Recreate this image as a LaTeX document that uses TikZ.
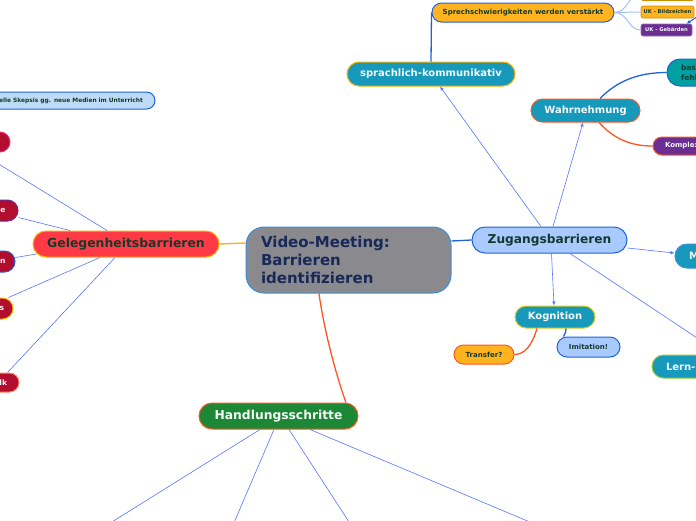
\documentclass[tikz,border=0pt]{standalone}
\usepackage{fontspec}
\setmainfont{DejaVu Sans}
\usetikzlibrary{arrows.meta}
\definecolor{cteal}{HTML}{1699BA}
\definecolor{cred}{HTML}{FF3A46}
\definecolor{ccrim}{HTML}{B00D2F}
\definecolor{cpurp}{HTML}{6B2D92}
\definecolor{cyel}{HTML}{FFB41F}
\definecolor{clblue}{HTML}{A8CAFF}
\definecolor{cskep}{HTML}{BDDBF6}
\definecolor{cgreen}{HTML}{1C8836}
\definecolor{cgray}{HTML}{8A8A8E}
\definecolor{cdteal}{HTML}{00A0A2}
\definecolor{cdark}{HTML}{143A2C}
\definecolor{cnavy}{HTML}{182858}
\definecolor{cblue}{HTML}{1E63D8}
\definecolor{cbord}{HTML}{3A8EE0}
\definecolor{cthin}{HTML}{5577FF}
\definecolor{corange}{HTML}{FFB000}
\definecolor{cored}{HTML}{FF5522}
\definecolor{cwhite}{HTML}{F5F8F8}
\definecolor{cuk}{HTML}{A6C4EE}
\definecolor{cyborder}{HTML}{E0D020}
\definecolor{cgborder}{HTML}{9ACD32}
\definecolor{cpink}{HTML}{E8307A}
\tikzset{
  pill/.style={draw, line width=1pt, inner sep=0pt, font=\bfseries},
  thinline/.style={draw=cthin, line width=0.6pt},
  thickblue/.style={draw=cblue, line width=1.3pt},
  thickorange/.style={draw=cored, line width=1.3pt},
  arr/.style={-{Latex[length=4pt,width=3.5pt]}},
  crim/.style={pill, fill=ccrim, text=cwhite, minimum width=60pt, align=right,
     font=\bfseries\fontsize{7.5}{9}\selectfont},
}
\begin{document}
\begin{tikzpicture}[x=1pt,y=-1pt]
\useasboundingbox (0,0) rectangle (696,520);
\clip (0,0) rectangle (696,520);
\fill[white] (0,0) rectangle (696,520);

% central
\node[pill, fill=cgray, draw=cbord, rounded corners=18pt, minimum width=205pt, minimum height=66pt,
  text width=175pt, align=left, text=cnavy, font=\bfseries\fontsize{15}{18}\selectfont]
  (central) at (348.5,260) {Video-Meeting:\\Barrieren\\identifizieren};

% main branches
\node[pill, fill=cred, draw=corange, rounded corners=13pt, minimum width=186pt, minimum height=26pt,
  text=cdark, font=\bfseries\fontsize{12.4}{14}\selectfont] (gb) at (126,244) {Gelegenheitsbarrieren};
\node[pill, fill=clblue, draw=cblue, rounded corners=13pt, minimum width=155pt, minimum height=26pt,
  text=cdark, font=\bfseries\fontsize{12.2}{14}\selectfont] (zb) at (549.5,240) {Zugangsbarrieren};
\node[pill, fill=cgreen, draw=cored, rounded corners=13pt, minimum width=159pt, minimum height=26pt,
  text=cwhite, font=\bfseries\fontsize{12.3}{14}\selectfont] (hs) at (278.5,416) {Handlungsschritte};

% right side
\node[pill, fill=cteal, draw=corange, rounded corners=12pt, minimum width=168pt, minimum height=24pt,
  text=cwhite, font=\bfseries\fontsize{10}{12}\selectfont] (sk) at (431,74) {sprachlich-kommunikativ};
\node[pill, fill=cyel, draw=cblue, rounded corners=9.5pt, minimum width=182pt, minimum height=19pt,
  text=cdark, font=\bfseries\fontsize{7}{8}\selectfont] (sw) at (523,12.5) {Sprechschwierigkeiten werden verstärkt};
\node[pill, fill=cyel, draw=corange!80!black, line width=0.6pt, rounded corners=2pt, minimum width=53pt, minimum height=13pt] (uktop) at (667.5,-6) {};
\node[pill, fill=cyel, draw=corange!80!black, line width=0.6pt, rounded corners=2pt, minimum width=53pt, minimum height=12pt,
  text=cdark, font=\bfseries\fontsize{5.2}{6}\selectfont] (ukb) at (667.5,12) {UK - Bildzeichen};
\node[pill, fill=cpurp, draw=cpurp!70!white, line width=0.6pt, rounded corners=2pt, minimum width=51pt, minimum height=12pt,
  text=cwhite, font=\bfseries\fontsize{5.2}{6}\selectfont] (ukg) at (666.5,30) {UK - Gebärden};
\coordinate (ukx) at (700,15);

\node[pill, fill=cteal, draw=cored, rounded corners=11.5pt, minimum width=109pt, minimum height=23pt,
  text=cwhite, font=\bfseries\fontsize{10}{12}\selectfont] (wn) at (585.5,110.5) {Wahrnehmung};
\node[pill, fill=cdteal, draw=cblue, rounded corners=13pt, minimum width=70pt, minimum height=27pt,
  text width=42pt, align=left, text=cdark, font=\bfseries\fontsize{7.5}{9.5}\selectfont] (basa) at (702,72.5) {basa\\fehle};
\node[pill, fill=cpurp, draw=cored, rounded corners=9pt, minimum width=90pt, minimum height=18pt,
  text width=66pt, align=left, text=cwhite, font=\bfseries\fontsize{7}{8}\selectfont] (kp) at (698,146) {Komplexe};
\node[pill, fill=cteal, draw=cbord, rounded corners=12pt, minimum width=60pt, minimum height=24pt,
  text width=32pt, align=left, text=cwhite, font=\bfseries\fontsize{10}{12}\selectfont] (mo) at (705,256) {M};
\node[pill, fill=cteal, draw=cgborder, rounded corners=11.5pt, minimum width=140pt, minimum height=23pt,
  text width=112pt, align=left, text=cwhite, font=\bfseries\fontsize{10}{12}\selectfont] (lern) at (722,366.5) {Lern-};

\node[pill, fill=cteal, draw=cyborder, rounded corners=11pt, minimum width=80pt, minimum height=22pt,
  text=cwhite, font=\bfseries\fontsize{10}{12}\selectfont] (kg) at (555,317) {Kognition};
\node[pill, fill=clblue, draw=cblue, rounded corners=10pt, minimum width=63pt, minimum height=20pt,
  text=cdark, font=\bfseries\fontsize{7}{8}\selectfont] (im) at (588.5,347) {Imitation!};
\node[pill, fill=cyel, draw=cored, rounded corners=9.5pt, minimum width=60pt, minimum height=19pt,
  text=cdark, font=\bfseries\fontsize{7}{8}\selectfont] (tr) at (484,354.5) {Transfer?};

% left side
\node[pill, fill=cskep, draw=cblue, rounded corners=8.5pt, minimum width=200pt, minimum height=17pt,
  text width=176pt, align=right, text=cdark, font=\bfseries\fontsize{5.9}{7}\selectfont]
  (skep) at (55,100.5) {elle Skepsis gg. neue Medien im Unterricht};
\node[crim, draw=cpink, rounded corners=10pt, minimum height=20pt] (ltop) at (-20,142) {};
\node[crim, draw=cpurp, rounded corners=10.5pt, minimum height=21pt, text width=35pt] (le) at (-12,210.5) {e};
\node[crim, draw=cblue, rounded corners=10.5pt, minimum height=21pt, text width=41pt] (ln) at (-15,261.5) {n};
\node[crim, draw=corange, rounded corners=10.5pt, minimum height=21pt, text width=42pt] (ls) at (-17,308.5) {s};
\node[crim, draw=cored!70!white, rounded corners=9.5pt, minimum height=19pt, text width=36pt] (llk) at (-11,382.5) {lk};

% bottom coordinates
\coordinate (h1) at (107,525);
\coordinate (h2) at (233,525);
\coordinate (h3) at (351,525);
\coordinate (h4) at (537,525);

% connectors from central
\draw[draw=corange, line width=1.3pt] ([yshift=17pt]central.west) -- (gb.east);
\draw[thickblue] ([yshift=19pt]central.east) -- (zb.west);
\draw[thickorange] ([xshift=-29.5pt]central.south) .. controls (324,330) and (336,375) .. ([xshift=67.5pt]hs.north);

% Zugangsbarrieren
\draw[thinline, arr] ([xshift=-8.5pt]zb.north) -- ([xshift=9pt]sk.south);
\draw[thinline, arr] ([xshift=3.5pt]zb.north) -- ([xshift=-2.5pt]wn.south);
\draw[thinline, arr] ([yshift=-8pt]zb.east) -- ([yshift=3pt]mo.west);
\draw[thinline, arr] ([xshift=2pt]zb.south) -- ([xshift=-1pt]kg.north);
\draw[thinline, arr] ([xshift=20.5pt]zb.south) -- (lern.north);

% sprachlich
\draw[thickblue] (sk.north) -- (sw.west);
\draw[draw=cuk, line width=1pt] (sw.east) -- (ukb.west);
\draw[draw=cuk, line width=1pt] (sw.east) .. controls (628,12.5) and (628,30) .. (ukg.west);
\draw[draw=cuk, line width=1pt] (sw.east) .. controls (628,12.5) and (628,-6) .. (uktop.west);
\draw[draw=cblue, line width=1pt, arr] (ukx) -- ([xshift=20pt]ukg.north);

% Wahrnehmung
\draw[thickblue] ([xshift=14.5pt]wn.north) .. controls (618,80) and (640,72.5) .. (basa.west);
\draw[thickorange] ([xshift=13.5pt]wn.south) .. controls (615,140) and (632,146) .. (kp.west);

% Kognition
\draw[thickorange] ([xshift=-18pt]kg.south) .. controls (532,345) and (525,354.5) .. (tr.east);
\draw[thickblue] ([xshift=11pt]kg.south) .. controls (566,334) and (563.5,335) .. ([xshift=-25pt]im.north);

% Gelegenheitsbarrieren
\draw[thinline] ([xshift=-19pt]gb.north) -- (ltop.south);
\draw[thinline] ([xshift=-56pt]gb.north) -- ([yshift=-7pt]le.east);
\draw[thinline] ([xshift=4pt,yshift=-10pt]gb.west) -- ([yshift=4pt]ln.east);
\draw[thinline] ([xshift=-26pt]gb.south) -- ([xshift=-5pt]ls.north east);
\draw[thinline] ([xshift=-11pt]gb.south) -- ([xshift=-12pt]llk.north east);

% Handlungsschritte
\draw[thinline] ([xshift=-18.5pt]hs.south) -- (h1);
\draw[thinline] ([xshift=-4.5pt]hs.south) -- (h2);
\draw[thinline] ([xshift=10.5pt]hs.south) -- (h3);
\draw[thinline] ([xshift=31.5pt]hs.south) -- (h4);
\end{tikzpicture}
\end{document}
